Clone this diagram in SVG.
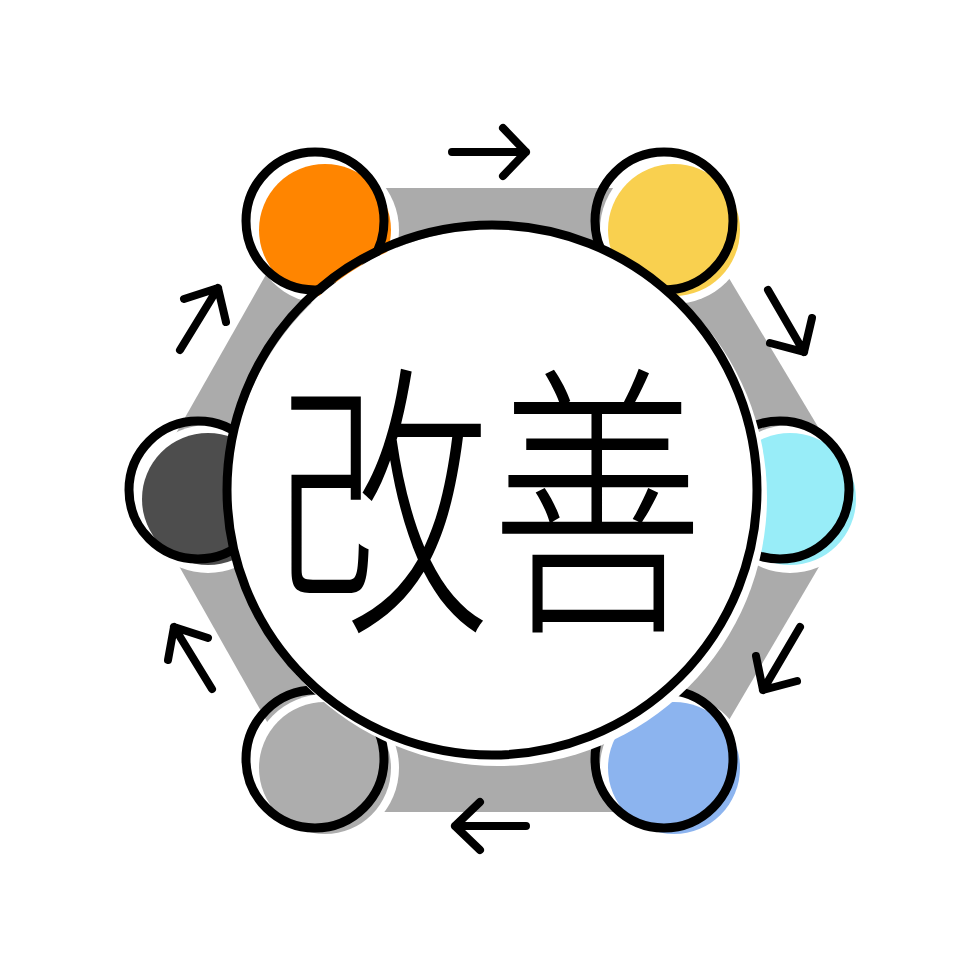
<svg xmlns="http://www.w3.org/2000/svg" width="980" height="980" viewBox="0 0 980 980">
<style>
.halo{fill:#ffffff}
.ring{fill:none;stroke:#000000;stroke-width:9}
.arrow{fill:none;stroke:#000000;stroke-width:8;stroke-linecap:round;stroke-linejoin:round}
.label{font-family:"Noto Sans CJK JP","Noto Sans CJK SC",sans-serif;font-size:290px;font-weight:300;fill:#000000}
</style>
<rect width="980" height="980" fill="#ffffff"/>
<g id="band">
<polygon points="315,188 675,188 860,497 675,812 318,812 140,497" fill="#ababab"/>
</g>
<g id="node-top-left">
<circle class="halo" cx="325" cy="230" r="74"/>
<circle cx="325" cy="230" r="66" fill="#ff8500"/>
<circle class="ring" cx="315" cy="221" r="69"/>
</g>
<g id="node-top-right">
<circle class="halo" cx="674" cy="230" r="74"/>
<circle cx="674" cy="230" r="66" fill="#f9d04f"/>
<circle class="ring" cx="664" cy="221" r="69"/>
</g>
<g id="node-right">
<circle class="halo" cx="790" cy="499" r="74"/>
<circle cx="790" cy="499" r="66" fill="#98edf8"/>
<circle class="ring" cx="780" cy="490" r="69"/>
</g>
<g id="node-bottom-right">
<circle class="halo" cx="674" cy="768" r="74"/>
<circle cx="674" cy="768" r="66" fill="#8cb4ef"/>
<circle class="ring" cx="664" cy="759" r="69"/>
</g>
<g id="node-bottom-left">
<circle class="halo" cx="325" cy="768" r="74"/>
<circle cx="325" cy="768" r="66" fill="#adadad"/>
<circle class="ring" cx="315" cy="759" r="69"/>
</g>
<g id="node-left">
<circle class="halo" cx="208" cy="499" r="74"/>
<circle cx="208" cy="499" r="66" fill="#4d4d4d"/>
<circle class="ring" cx="198" cy="490" r="69"/>
</g>
<g id="node-center">
<circle class="halo" cx="498" cy="497" r="269"/>
<circle class="ring" cx="492" cy="490" r="265" stroke-width="10"/>
<text class="label" text-anchor="middle" transform="translate(490,611) scale(0.74,1)" x="0" y="0">改善</text>
</g>
<g id="connectors">
<path class="arrow" d="M452,152 H526 M503,128 L526,152 L503,176"/>
<path class="arrow" d="M768,290 L804,352 M812,318 L804,352 L770,343"/>
<path class="arrow" d="M800,627 L763,690 M756,656 L763,690 L797,681"/>
<path class="arrow" d="M526,826 H455 M480,802 L455,826 L480,850"/>
<path class="arrow" d="M212,689 L174,627 M168,660 L174,627 L208,638"/>
<path class="arrow" d="M180,350 L218,288 M184,299 L218,288 L226,322"/>
</g>
</svg>
